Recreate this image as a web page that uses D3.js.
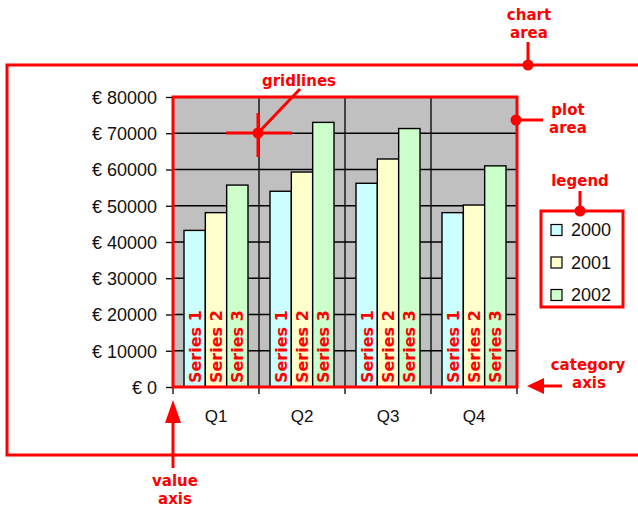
<!DOCTYPE html>
<html><head><meta charset="utf-8">
<script src="https://cdn.jsdelivr.net/npm/d3@7"></script>
<style>html,body{margin:0;padding:0;background:#fff;}svg{display:block;}</style>
</head><body>
<svg id="c" width="638" height="507"></svg>
<script>
const quarters = ["Q1", "Q2", "Q3", "Q4"];
const years = ["2000", "2001", "2002"];
const barLabels = ["Series 1", "Series 2", "Series 3"];
const values2000 = [43200, 54000, 56200, 48100];
const values2001 = [48100, 59300, 62900, 50200];
const values2002 = [55700, 73000, 71300, 61000];
const yTicks = [0, 10000, 20000, 30000, 40000, 50000, 60000, 70000, 80000];
const colors = ["#ccffff", "#ffffcc", "#ccffcc"];

const series = [values2000, values2001, values2002];
const RED = "#ff0000";
const svg = d3.select("#c");
const L = 173, R = 517, T = 97, B = 387;
const axisFont = "'Liberation Sans', Arial, sans-serif";
const annFont = "'DejaVu Sans', Verdana, sans-serif";

// chart area
svg.append("rect").attr("x", 7).attr("y", 65).attr("width", 720).attr("height", 390)
  .attr("fill", "#fff").attr("stroke", RED).attr("stroke-width", 3);

const x0 = d3.scaleBand().domain(quarters).range([L, R]).padding(0);
const x1 = d3.scaleBand().domain(years).range([11, x0.bandwidth() - 11]).padding(0);
const y = d3.scaleLinear().domain([0, 80000]).range([B, T]);

// plot bg
svg.append("rect").attr("x", L).attr("y", T).attr("width", R - L).attr("height", B - T).attr("fill", "#c0c0c0");

// horizontal gridlines
svg.append("g").selectAll("line").data(yTicks).join("line")
  .attr("x1", L).attr("x2", R).attr("y1", d => y(d)).attr("y2", d => y(d))
  .attr("stroke", "#000").attr("stroke-width", 1.3);
// vertical gridlines
svg.append("g").selectAll("line").data(quarters.slice(1)).join("line")
  .attr("x1", d => x0(d)).attr("x2", d => x0(d)).attr("y1", T).attr("y2", B)
  .attr("stroke", "#000").attr("stroke-width", 1.3);

// bars
const groups = svg.append("g").selectAll("g").data(quarters).join("g")
  .attr("transform", d => `translate(${x0(d)},0)`);
groups.selectAll("rect").data((q, qi) => years.map((yr, si) => ({ yr, si, v: series[si][qi] })))
  .join("rect")
  .attr("x", d => x1(d.yr)).attr("width", x1.bandwidth())
  .attr("y", d => y(d.v)).attr("height", d => y(0) - y(d.v))
  .attr("fill", d => colors[d.si]).attr("stroke", "#000").attr("stroke-width", 1.4);
groups.selectAll("text").data((q, qi) => years.map((yr, si) => ({ yr, si })))
  .join("text")
  .attr("transform", d => `translate(${x1(d.yr) + x1.bandwidth() / 2 + 6},${B - 4}) rotate(-90)`)
  .attr("font-family", annFont).attr("font-weight", "bold").attr("font-size", 16)
  .attr("fill", RED).text(d => barLabels[d.si]);

// y axis
const yAxis = svg.append("g").attr("transform", `translate(${L},0)`)
  .call(d3.axisLeft(y).tickValues(yTicks).tickSize(7).tickPadding(9).tickFormat(d => "€ " + d));
yAxis.select(".domain").remove();
yAxis.selectAll("line").attr("stroke", "#000").attr("stroke-width", 1.3);
yAxis.selectAll("text").attr("font-family", axisFont).attr("font-size", 18).attr("fill", "#111").attr("dy", "0.36em");

// x axis
const xAxis = svg.append("g").attr("transform", `translate(0,${B})`)
  .call(d3.axisBottom(x0).tickSize(0).tickPadding(23));
xAxis.select(".domain").remove();
xAxis.selectAll("text").attr("font-family", axisFont).attr("font-size", 17).attr("fill", "#111");
svg.append("g").selectAll("line").data(quarters.map(q => x0(q)).concat([R])).join("line")
  .attr("x1", d => d).attr("x2", d => d).attr("y1", B).attr("y2", B + 7)
  .attr("stroke", "#000").attr("stroke-width", 1.3);

// plot area border
svg.append("rect").attr("x", L).attr("y", T).attr("width", R - L).attr("height", B - T)
  .attr("fill", "none").attr("stroke", RED).attr("stroke-width", 3);

// legend
const lg = svg.append("g");
lg.append("rect").attr("x", 541).attr("y", 211).attr("width", 82).attr("height", 96)
  .attr("fill", "#fff").attr("stroke", RED).attr("stroke-width", 3);
const ly = d3.scalePoint().domain(years).range([230, 295]);
lg.selectAll("rect.sw").data(years).join("rect").attr("class", "sw")
  .attr("x", 551).attr("y", d => ly(d) - 5.5).attr("width", 11).attr("height", 11)
  .attr("fill", (d, i) => colors[i]).attr("stroke", "#000").attr("stroke-width", 1.2);
lg.selectAll("text").data(years).join("text")
  .attr("x", 571).attr("y", d => ly(d)).attr("dy", "0.36em")
  .attr("font-family", axisFont).attr("font-size", 18).attr("fill", "#111").text(d => d);

// annotations
function ann(txt, x, yy) {
  svg.append("text").attr("x", x).attr("y", yy).attr("text-anchor", "middle")
    .attr("font-family", annFont).attr("font-weight", "bold").attr("font-size", 15)
    .attr("fill", RED).text(txt);
}
function line(x1_, y1_, x2_, y2_, w) {
  svg.append("line").attr("x1", x1_).attr("y1", y1_).attr("x2", x2_).attr("y2", y2_)
    .attr("stroke", RED).attr("stroke-width", w || 3);
}
function dot(x, yy) { svg.append("circle").attr("cx", x).attr("cy", yy).attr("r", 5.5).attr("fill", RED); }

ann("chart", 529, 20); ann("area", 529, 38);
line(528, 42, 528, 65); dot(528, 65);

ann("plot", 568, 115); ann("area", 568, 133);
line(516, 120, 543, 120); dot(516, 120);

ann("gridlines", 299, 86);
line(300, 89, 258, 133);
line(226, 133, 292, 133); line(258, 113, 258, 157);
dot(258, 133);

ann("legend", 580, 186);
line(580, 191, 580, 211); dot(580, 211);

ann("category", 588, 370); ann("axis", 589, 388);
line(541, 386, 562, 386);
svg.append("path").attr("d", "M527,386 L544,378 L544,394 Z").attr("fill", RED);

ann("value", 175, 486); ann("axis", 175, 504);
line(173, 420, 173, 468);
svg.append("path").attr("d", "M173,400 L165,423 L181,423 Z").attr("fill", RED);
</script>
</body></html>
